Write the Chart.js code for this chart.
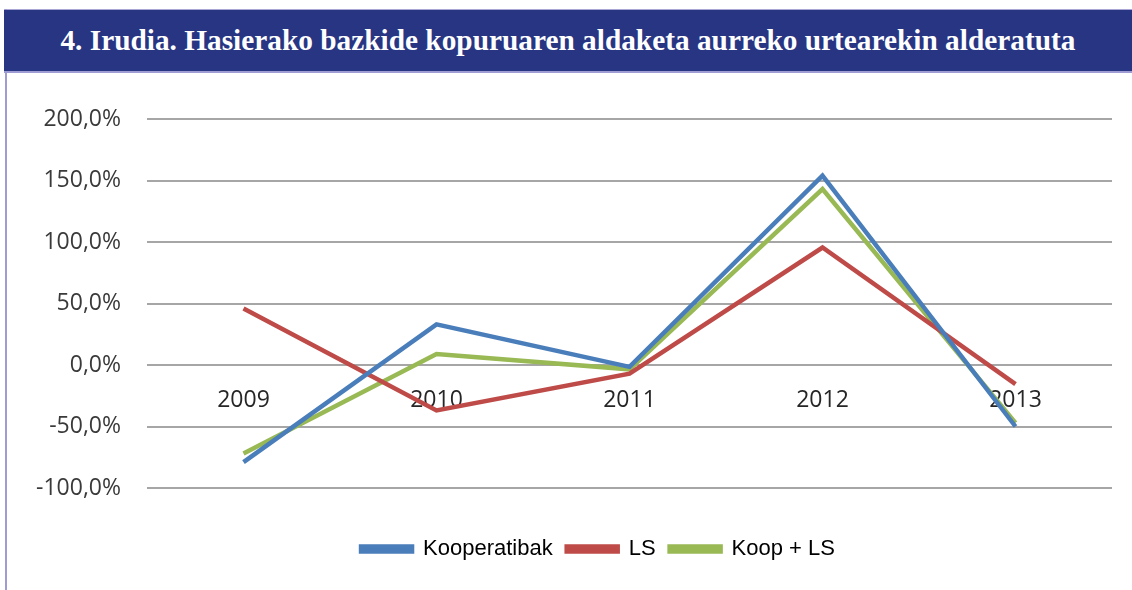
<!DOCTYPE html>
<html>
<head>
<meta charset="utf-8">
<script src="https://cdn.jsdelivr.net/npm/chart.js@4"></script>
<style>
  html, body { margin: 0; padding: 0; background: #ffffff; }
  #wrap { position: relative; width: 1132px; height: 590px; overflow: hidden; background: #ffffff; }
  #frameTop { position: absolute; left: 4px; top: 9px; width: 1128px; height: 1px; background: #a9a6d6; }
  #band { position: absolute; left: 4px; top: 10px; width: 1128px; height: 61px; background: #283583;
          display: flex; align-items: center; justify-content: center; }
  #band span { font-family: "Liberation Serif", "Times New Roman", serif; font-weight: bold; font-size: 29px;
               color: #ffffff; white-space: nowrap; display: inline-block; }
  #frameMid { position: absolute; left: 4px; top: 71px; width: 1128px; height: 2px; background: #9f9bd3; }
  #frameLeft { position: absolute; left: 5px; top: 9px; width: 2px; height: 581px; background: #9f9bd3; }
  #c { position: absolute; left: 0; top: 0; }
</style>
</head>
<body>
<div id="wrap">
  <div id="frameTop"></div>
  <div id="frameLeft"></div>
  <div id="band"><span id="title">4. Irudia. Hasierako bazkide kopuruaren aldaketa aurreko urtearekin alderatuta</span></div>
  <div id="frameMid"></div>
  <canvas id="c" width="1132" height="590"></canvas>
</div>
<script>
const categories = ["2009", "2010", "2011", "2012", "2013"];
const seriesNames = ["Kooperatibak", "LS", "Koop + LS"];
const kooperatibak = [-79, 33, -1.5, 154, -50];
const ls = [46, -37, -7, 95.5, -15.5];
const koopLs = [-72, 9, -3.5, 143, -47];
const yTickValues = [-100, -50, 0, 50, 100, 150, 200];

// fit title width
(function(){
  const t = document.getElementById('title');
  const target = 1015;
  const w = t.getBoundingClientRect().width;
  if (w > 0) t.style.transform = 'scaleX(' + (target / w) + ')';
})();

const colors = ["#4a7ebb", "#be4b48", "#98b954"];
const values = [kooperatibak, ls, koopLs];

const legendShift = {
  id: 'legendShift',
  afterLayout(chart) {
    const l = chart.legend;
    if (l) { l.left += 42; l.right += 42; }
  }
};

new Chart(document.getElementById('c'), {
  type: 'line',
  data: {
    labels: categories,
    datasets: seriesNames.map((n, i) => ({
      label: n,
      data: values[i],
      borderColor: colors[i],
      backgroundColor: colors[i],
      borderWidth: 4.5,
      pointRadius: 0,
      pointHoverRadius: 0,
      tension: 0,
      fill: false
    }))
  },
  plugins: [legendShift],
  options: {
    responsive: false,
    animation: false,
    layout: { padding: { left: 0, right: 20, top: 119, bottom: 20 } },
    plugins: {
      tooltip: { enabled: false },
      legend: {
        position: 'bottom',
        title: { display: true, text: ' ', font: { size: 10, lineHeight: 1 }, padding: { top: 26, bottom: 0 } },
        labels: {
          boxWidth: 51,
          boxHeight: 5,
          padding: 14,
          color: '#000000',
          font: { family: '"Liberation Sans", Arial, sans-serif', size: 22 }
        }
      }
    },
    scales: {
      x: {
        position: { y: 0 },
        offset: true,
        grid: { display: false, drawTicks: false },
        border: { display: false },
        ticks: {
          padding: 22,
          color: '#262626',
          font: { family: '"Open Sans", sans-serif', size: 23 }
        }
      },
      y: {
        min: -100,
        max: 200,
        afterFit: (s) => { s.width = 147; },
        afterBuildTicks: (s) => { s.ticks = yTickValues.map(v => ({ value: v })); },
        grid: { color: '#a6a6a6', lineWidth: 2, drawTicks: false },
        border: { display: false },
        ticks: {
          padding: 26,
          color: '#3a3a3a',
          font: { family: '"Open Sans", sans-serif', size: 23 },
          callback: (v) => v.toFixed(1).replace('.', ',') + '%'
        }
      }
    }
  }
});
</script>
</body>
</html>
